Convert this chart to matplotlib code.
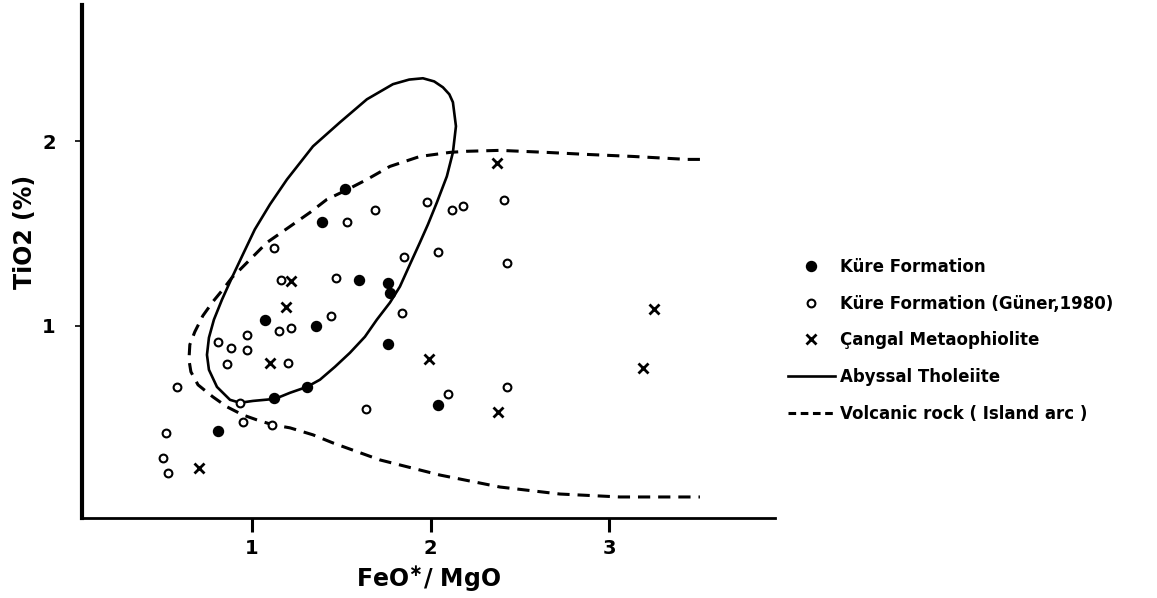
import matplotlib.pyplot as plt
from matplotlib.lines import Line2D

# Küre Formation (this study)
kure_x = [0.81, 1.07, 1.36, 1.39, 1.52, 1.60, 1.76, 1.77, 1.76, 1.31, 1.12, 2.04]
kure_y = [0.43, 1.03, 1.00, 1.56, 1.74, 1.25, 1.23, 1.18, 0.90, 0.67, 0.61, 0.57]

# Küre Formation (Güner, 1980)
guner_x = [1.12, 1.53, 1.69, 1.98, 2.12, 2.18, 2.41, 1.85, 2.04, 2.43, 1.16,
           1.47, 1.44, 1.15, 1.22, 1.84, 0.97, 0.81, 0.88, 0.97, 0.86, 1.20,
           0.58, 0.93, 0.95, 1.11, 2.10, 2.43, 1.64, 0.52, 0.50, 0.53]
guner_y = [1.42, 1.56, 1.63, 1.67, 1.63, 1.65, 1.68, 1.37, 1.40, 1.34, 1.25,
           1.26, 1.05, 0.97, 0.99, 1.07, 0.95, 0.91, 0.88, 0.87, 0.79, 0.80,
           0.67, 0.58, 0.48, 0.46, 0.63, 0.67, 0.55, 0.42, 0.28, 0.20]

# Çangal metaophiolite
cangal_x = [0.70, 1.10, 1.19, 1.22, 1.99, 2.37, 2.38, 3.19, 3.25]
cangal_y = [0.23, 0.80, 1.10, 1.24, 0.82, 1.88, 0.53, 0.77, 1.09]

# Abyssal tholeiite field (closed outline)
abyssal_x = [0.932, 0.876, 0.803, 0.758, 0.747, 0.758, 0.786, 0.831, 0.887,
             0.948, 1.015, 1.100, 1.195, 1.341, 1.492, 1.643, 1.789, 1.880,
             1.957, 2.020, 2.069, 2.105, 2.125, 2.142, 2.125, 2.091, 2.035,
             1.985, 1.940, 1.884, 1.828, 1.772, 1.699, 1.632, 1.548, 1.464,
             1.380, 1.307, 1.212, 1.128, 1.005, 0.932]
abyssal_y = [0.582, 0.598, 0.668, 0.761, 0.842, 0.935, 1.033, 1.141, 1.261,
             1.386, 1.522, 1.658, 1.793, 1.973, 2.103, 2.228, 2.310, 2.335,
             2.342, 2.325, 2.293, 2.255, 2.212, 2.082, 1.940, 1.810, 1.668,
             1.549, 1.451, 1.332, 1.212, 1.125, 1.033, 0.940, 0.853, 0.777,
             0.707, 0.668, 0.636, 0.603, 0.592, 0.582]

# Island arc volcanic rock field (open outline)
arc_x = [3.509, 3.436, 3.134, 2.876, 2.651, 2.388, 2.203, 2.108, 1.940, 1.772,
         1.643, 1.525, 1.419, 1.324, 1.212, 1.083, 1.005, 0.932, 0.887, 0.836,
         0.780, 0.724, 0.679, 0.651, 0.646, 0.657, 0.697, 0.780, 0.859, 0.948,
         1.027, 1.117, 1.212, 1.341, 1.453, 1.716, 2.052, 2.388, 2.724, 3.060,
         3.509]
arc_y = [1.902, 1.902, 1.918, 1.929, 1.940, 1.951, 1.946, 1.940, 1.918, 1.864,
         1.793, 1.734, 1.685, 1.614, 1.538, 1.451, 1.375, 1.304, 1.261, 1.196,
         1.130, 1.054, 0.967, 0.897, 0.815, 0.750, 0.679, 0.614, 0.560, 0.516,
         0.489, 0.462, 0.446, 0.408, 0.364, 0.272, 0.190, 0.125, 0.087, 0.071,
         0.071]

x_ticks = [1, 2, 3]
y_ticks = [1, 2]

legend_labels = ["Küre Formation", "Küre Formation (Güner,1980)",
                 "Çangal Metaophiolite", "Abyssal Tholeiite",
                 "Volcanic rock ( Island arc )"]

plt.rcParams['font.family'] = ['DejaVu Sans']
plt.rcParams['font.weight'] = 'bold'

fig = plt.figure(figsize=(11.57, 5.98), dpi=100)
ax = fig.add_axes([0.0709, 0.1338, 0.599, 0.858])

dash = (4, 2.6)
ax.plot(abyssal_x, abyssal_y, color='black', lw=1.9, solid_capstyle='round',
        solid_joinstyle='round')
ax.plot(arc_x, arc_y, color='black', lw=2.2, dashes=dash)

ax.plot(kure_x, kure_y, 'o', ms=7.2, color='black', ls='none')
ax.plot(guner_x, guner_y, 'o', ms=5.6, mfc='white', mec='black', mew=1.5,
        ls='none')
ax.plot(cangal_x, cangal_y, 'x', ms=6.5, color='black', mew=2.0, ls='none')

ax.set_xlim(0.047, 3.93)
ax.set_ylim(-0.043, 2.74)

for side in ['top', 'right']:
    ax.spines[side].set_visible(False)
ax.spines['left'].set_linewidth(3.0)
ax.spines['bottom'].set_linewidth(2.0)

ax.set_xticks(x_ticks)
ax.set_yticks(y_ticks)
ax.tick_params(axis='x', direction='out', length=10, width=2.2, pad=5,
               labelsize=14)
ax.tick_params(axis='y', direction='out', length=5, width=1.2, pad=14,
               labelsize=14)

ax.set_xlabel("FeO$^{\\ast}$/ MgO", fontsize=17, fontweight='bold')
ax.xaxis.set_label_coords(0.5, -0.117)
ax.xaxis.label.set_va('center')
ax.set_ylabel("TiO2 (%)", fontsize=17, fontweight='bold')
ax.yaxis.set_label_coords(-0.082, 0.557)
ax.yaxis.label.set_va('center')

handles = [
    Line2D([], [], marker='o', ms=7.2, color='black', ls='none'),
    Line2D([], [], marker='o', ms=5.6, mfc='white', mec='black', mew=1.5,
           ls='none'),
    Line2D([], [], marker='x', ms=6.5, color='black', mew=2.0, ls='none'),
    Line2D([], [], color='black', lw=1.9),
    Line2D([], [], color='black', lw=2.2, dashes=(2.5, 1.5)),
]
fig.legend(handles, legend_labels, loc='upper left',
           bbox_to_anchor=(0.681, 0.5686), frameon=False, fontsize=12,
           handlelength=2.8, handletextpad=0.3, labelspacing=1.12,
           borderpad=0, borderaxespad=0)

fig.savefig("out.png", dpi=100, facecolor='white')
